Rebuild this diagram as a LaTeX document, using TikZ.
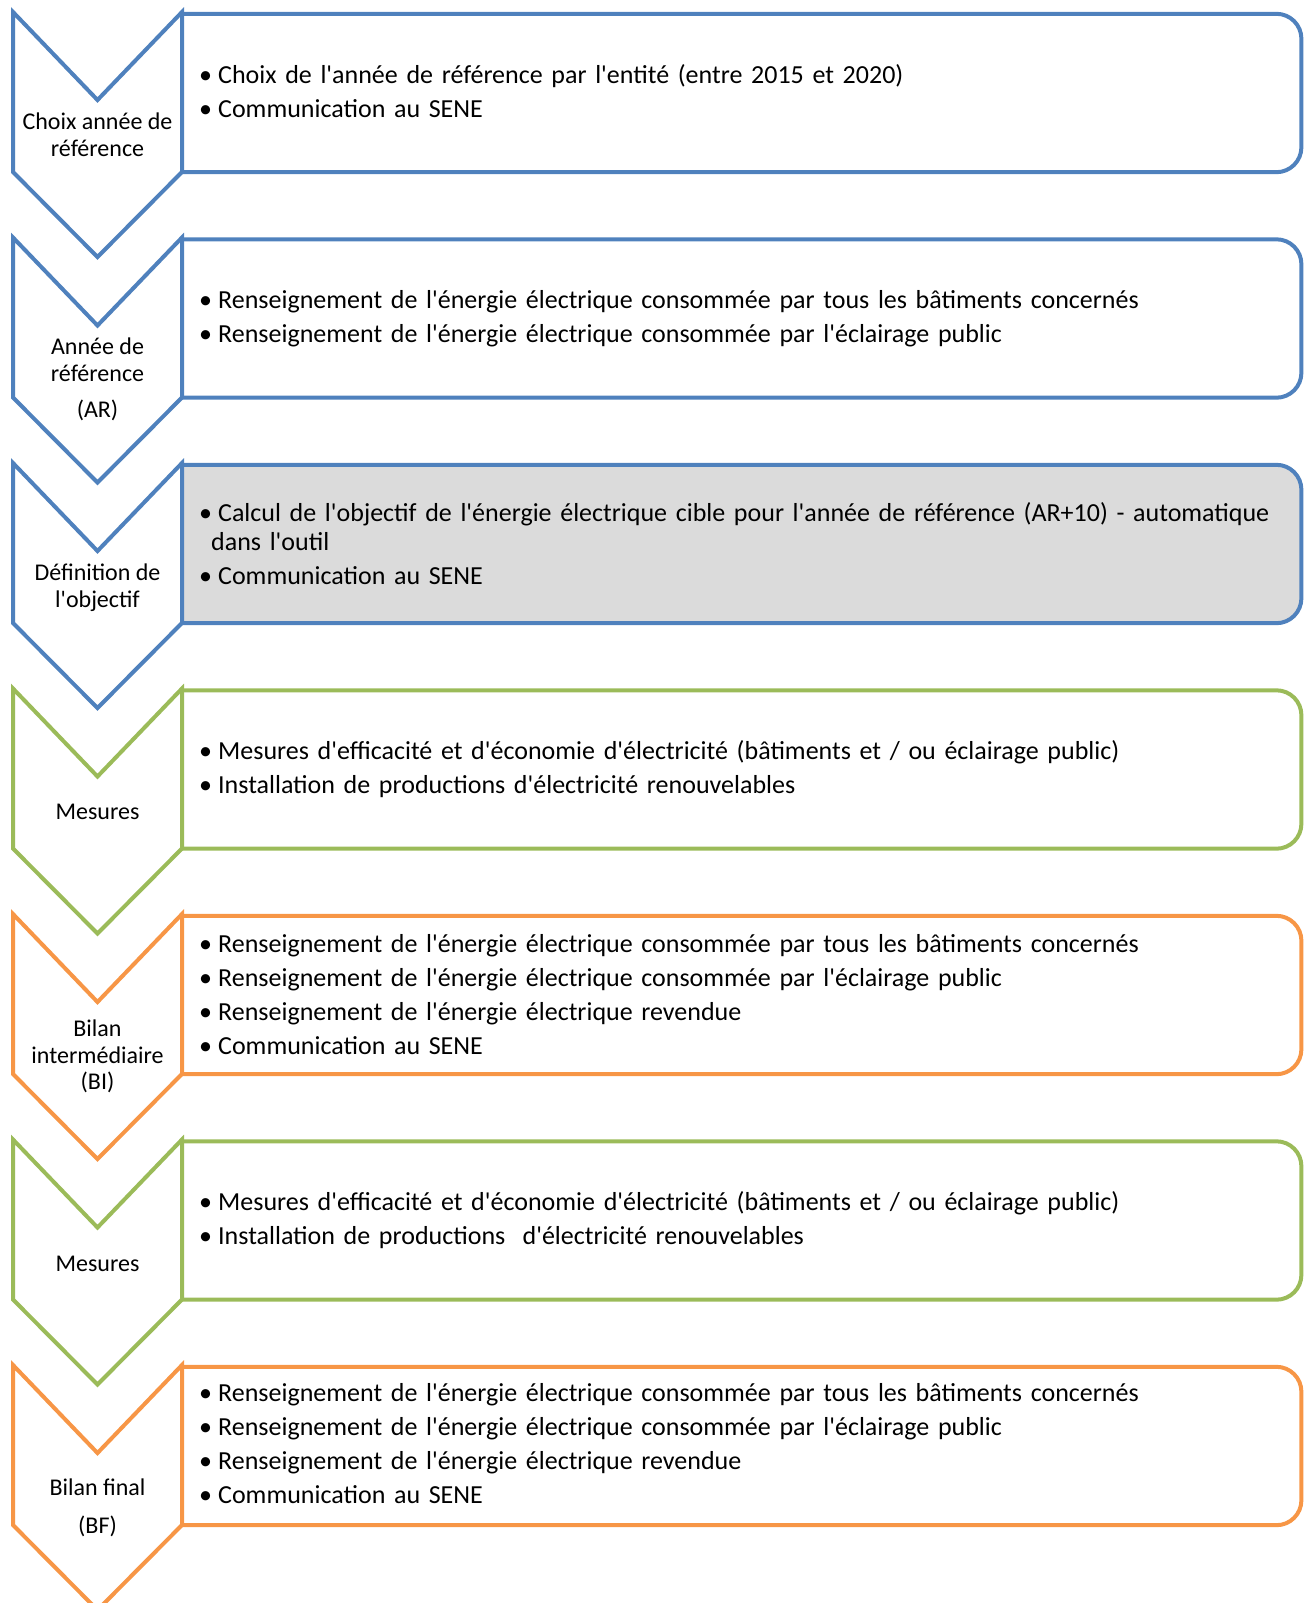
\documentclass[tikz,border=0pt]{standalone}
\usepackage{fontspec}
\setmainfont{Carlito}[Ligatures=TeXOff]
\usetikzlibrary{backgrounds}
\definecolor{SBlue}{HTML}{4F81BD}
\definecolor{SGreen}{HTML}{9BBB59}
\definecolor{SOrange}{HTML}{F79646}
\definecolor{SGray}{HTML}{DBDBDB}
\newcommand{\puce}{\makebox[22pt][l]{\hspace{3pt}\textbullet}}

\begin{document}
\begin{tikzpicture}[x=1pt,y=1pt,
  every node/.style={inner sep=0pt},
  chev/.style={line width=4pt,fill=white,line join=miter},
  lab/.style={font=\fontsize{24}{26.6}\selectfont,align=center},
  box/.style={anchor=west,minimum height=158pt,inner xsep=14pt,text width=1091pt,
    font=\fontsize{26}{29}\selectfont,align=left},
  frame/.style={line width=4pt,rounded corners=25pt}
]
  \useasboundingbox (0,0) rectangle (1306,-1603);
  \clip (0,0) rectangle (1306,-1603);

  % chevrons
  \draw[chev,draw=SBlue] (13,-12) -- ++(84.5,-88) -- ++(84.5,88) -- ++(0,-160) -- ++(-84.5,-85) -- ++(-84.5,85) -- cycle;
  \draw[chev,draw=SBlue] (13,-237.5) -- ++(84.5,-88) -- ++(84.5,88) -- ++(0,-160) -- ++(-84.5,-85) -- ++(-84.5,85) -- cycle;
  \draw[chev,draw=SBlue] (13,-463) -- ++(84.5,-88) -- ++(84.5,88) -- ++(0,-160) -- ++(-84.5,-85) -- ++(-84.5,85) -- cycle;
  \draw[chev,draw=SGreen] (13,-688.5) -- ++(84.5,-88) -- ++(84.5,88) -- ++(0,-160) -- ++(-84.5,-85) -- ++(-84.5,85) -- cycle;
  \draw[chev,draw=SOrange] (13,-914) -- ++(84.5,-88) -- ++(84.5,88) -- ++(0,-160) -- ++(-84.5,-85) -- ++(-84.5,85) -- cycle;
  \draw[chev,draw=SGreen] (13,-1139.5) -- ++(84.5,-88) -- ++(84.5,88) -- ++(0,-160) -- ++(-84.5,-85) -- ++(-84.5,85) -- cycle;
  \draw[chev,draw=SOrange] (13,-1365) -- ++(84.5,-88) -- ++(84.5,88) -- ++(0,-160) -- ++(-84.5,-85) -- ++(-84.5,85) -- cycle;

  % chevron labels
  \node[lab] (lchoix) at (97.5,-135) {Choix année de\\référence};
  \node[lab] (lannee) at (97.5,-379.5) {Année de\\référence\\[10pt](AR)};
  \node[lab] (lobjectif) at (97.5,-588) {Définition de\\l'objectif};
  \node[lab] (lmesures) at (97.5,-812) {Mesures};
  \node[lab] (lbilan) at (97.5,-1056.5) {Bilan\\intermédiaire\\(BI)};
  \node[lab] (lmesuresb) at (97.5,-1264) {Mesures};
  \node[lab] (lfinal) at (97.5,-1508) {Bilan final\\[11pt](BF)};

  % bullet boxes
  \node[box] (choix) at (182,-93) {\puce Choix de l'année de référence par l'entité (entre 2015 et 2020)\\[5pt]
    \puce Communication au SENE\vphantom{p}};
  \node[box] (annee) at (182,-318.5) {\puce Renseignement de l'énergie électrique consommée par tous les bâtiments concernés\\[5pt]
    \puce Renseignement de l'énergie électrique consommée par l'éclairage public};
  \node[box] (objectif) at (182,-544) {\mbox{\puce Calcul de l'objectif de l'énergie électrique cible pour l'année de référence (AR+10) - automatique}\\
    \hspace*{15pt}dans l'outil\\[5pt]
    \puce Communication au SENE};
  \node[box] (mesures) at (182,-769.5) {\puce Mesures d'efficacité et d'économie d'électricité (bâtiments et / ou éclairage public)\\[5pt]
    \puce Installation de productions d'électricité renouvelables};
  \node[box] (bilan) at (182,-995) {\puce Renseignement de l'énergie électrique consommée par tous les bâtiments concernés\\[5pt]
    \puce Renseignement de l'énergie électrique consommée par l'éclairage public\\[5pt]
    \puce Renseignement de l'énergie électrique revendue\\[5pt]
    \puce Communication au SENE};
  \node[box] (mesuresb) at (182,-1220.5) {\puce Mesures d'efficacité et d'économie d'électricité (bâtiments et / ou éclairage public)\\[5pt]
    \puce Installation de productions\ \ d'électricité renouvelables};
  \node[box] (final) at (182,-1446) {\puce Renseignement de l'énergie électrique consommée par tous les bâtiments concernés\\[5pt]
    \puce Renseignement de l'énergie électrique consommée par l'éclairage public\\[5pt]
    \puce Renseignement de l'énergie électrique revendue\\[5pt]
    \puce Communication au SENE\vphantom{p}};

  % box outlines
  \begin{scope}[on background layer]
    \draw[frame,draw=SBlue,fill=SGray] (objectif.south west) -- (objectif.south east)
      -- (objectif.north east) -- (objectif.north west);
    \foreach \n/\c in {choix/SBlue,annee/SBlue,mesures/SGreen,bilan/SOrange,mesuresb/SGreen,final/SOrange}
      {\draw[frame,draw=\c] (\n.south west) -- (\n.south east) -- (\n.north east) -- (\n.north west);}
  \end{scope}
\end{tikzpicture}
\end{document}
